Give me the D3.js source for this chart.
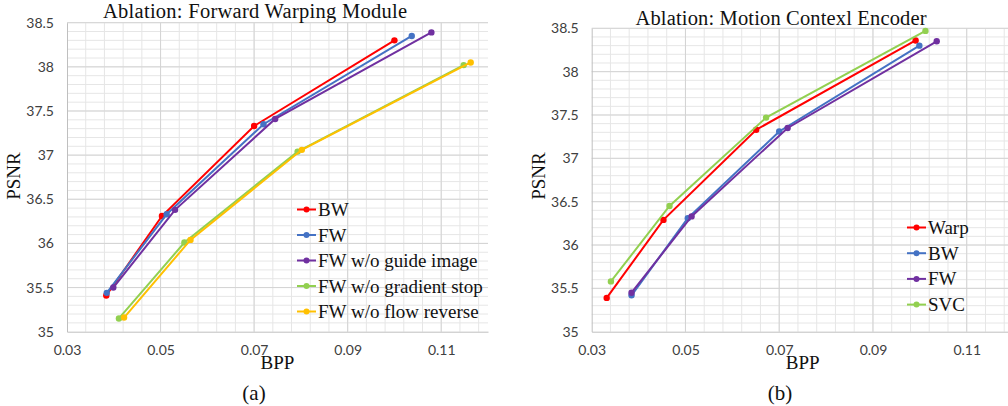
<!DOCTYPE html>
<html>
<head>
<meta charset="utf-8">
<script src="https://cdn.jsdelivr.net/npm/d3@7"></script>
<style>
  body { margin: 0; background: #fff; }
  .tick text { font-family: Lato, "Liberation Sans", sans-serif; font-size: 14px; fill: #404040; }
  .serif { font-family: "Liberation Serif", "DejaVu Serif", serif; fill: #111; }
</style>
</head>
<body>
<div id="chart"></div>
<script>
// x ticks shared by both panels
const bppTicks = [0.03, 0.05, 0.07, 0.09, 0.11];
const psnrTicks = [35, 35.5, 36, 36.5, 37, 37.5, 38, 38.5];

// (a) Ablation: Forward Warping Module
const namesA = ["BW", "FW", "FW w/o guide image", "FW w/o gradient stop", "FW w/o flow reverse"];
const colorsA = ["#ff0000", "#4472c4", "#7030a0", "#92d050", "#ffc000"];
const bwA = [[0.0384, 35.41], [0.0503, 36.31], [0.0700, 37.33], [0.1000, 38.30]];
const fwA = [[0.0385, 35.44], [0.0513, 36.33], [0.0720, 37.35], [0.1037, 38.35]];
const noGuideA = [[0.0399, 35.50], [0.0531, 36.38], [0.0745, 37.41], [0.1079, 38.39]];
const noGradA = [[0.0411, 35.15], [0.0551, 36.01], [0.0793, 37.04], [0.1148, 38.02]];
const noFlowA = [[0.0422, 35.16], [0.0564, 36.04], [0.0802, 37.06], [0.1163, 38.05]];

// (b) Ablation: Motion Contexl Encoder
const namesB = ["Warp", "BW", "FW", "SVC"];
const colorsB = ["#ff0000", "#4472c4", "#7030a0", "#92d050"];
const warpB = [[0.0332, 35.39], [0.0453, 36.29], [0.0651, 37.33], [0.0991, 38.36]];
const bwB = [[0.0385, 35.42], [0.0505, 36.31], [0.0700, 37.31], [0.0999, 38.30]];
const fwB = [[0.0385, 35.45], [0.0513, 36.33], [0.0718, 37.35], [0.1036, 38.35]];
const svcB = [[0.0341, 35.58], [0.0466, 36.45], [0.0672, 37.47], [0.1012, 38.47]];

const W = 1008, H = 406;
const svg = d3.select("#chart").append("svg")
      .attr("width", W)
      .attr("height", H);

function drawPanel(p) {
      const x = d3.scaleLinear().domain([0.03, 0.12]).range([p.left, p.left + p.width]);
      const y = d3.scaleLinear().domain([35, 38.5]).range([p.bottom, p.top]);
      const g = svg.append("g");

      // minor grid
      const minorX = d3.range(0.034, 0.1201, 0.004);
      const minorY = d3.range(35.1, 38.51, 0.1);
      g.selectAll(".mx").data(minorX).enter().append("line")
            .attr("x1", d => x(d)).attr("x2", d => x(d))
            .attr("y1", p.top).attr("y2", p.bottom)
            .style("stroke", "#e6e6e6").style("stroke-width", 1);
      g.selectAll(".my").data(minorY).enter().append("line")
            .attr("x1", p.left).attr("x2", p.left + p.width)
            .attr("y1", d => y(d)).attr("y2", d => y(d))
            .style("stroke", "#e6e6e6").style("stroke-width", 1);
      // major grid
      g.selectAll(".gx").data(bppTicks.slice(1)).enter().append("line")
            .attr("x1", d => x(d)).attr("x2", d => x(d))
            .attr("y1", p.top).attr("y2", p.bottom)
            .style("stroke", "#d4d4d4").style("stroke-width", 1);
      g.selectAll(".gy").data(psnrTicks.slice(1)).enter().append("line")
            .attr("x1", p.left).attr("x2", p.left + p.width)
            .attr("y1", d => y(d)).attr("y2", d => y(d))
            .style("stroke", "#d4d4d4").style("stroke-width", 1);

      // axes
      const xAxis = g.append("g")
            .attr("transform", `translate(0,${p.bottom})`)
            .call(d3.axisBottom(x).tickValues(bppTicks).tickSize(0).tickPadding(13)
                  .tickFormat(d => d3.format(".2f")(d)));
      const yAxis = g.append("g")
            .attr("transform", `translate(${p.left},0)`)
            .call(d3.axisLeft(y).tickValues(psnrTicks).tickSize(0).tickPadding(13)
                  .tickFormat(d => String(d)));
      [xAxis, yAxis].forEach(a => a.select(".domain").style("stroke", "#bfbfbf"));

      // series
      p.series.forEach((s, i) => {
            g.append("path")
                  .datum(s)
                  .attr("d", d3.line().x(d => x(d[0])).y(d => y(d[1])))
                  .style("fill", "none")
                  .style("stroke", p.colors[i])
                  .style("stroke-width", 2);
            g.selectAll(null).data(s).enter().append("circle")
                  .attr("cx", d => x(d[0])).attr("cy", d => y(d[1]))
                  .attr("r", 3.2)
                  .style("fill", p.colors[i]);
      });

      // legend
      p.names.forEach((n, i) => {
            const ly = p.legY + i * p.legStep;
            g.append("line")
                  .attr("x1", p.legX).attr("x2", p.legX + 19)
                  .attr("y1", ly).attr("y2", ly)
                  .style("stroke", p.colors[i]).style("stroke-width", 2);
            g.append("circle")
                  .attr("cx", p.legX + 9.5).attr("cy", ly).attr("r", 3)
                  .style("fill", p.colors[i]);
            g.append("text")
                  .attr("class", "serif")
                  .attr("x", p.legX + 21).attr("y", ly + 6.5)
                  .style("font-size", "19px")
                  .text(n);
      });

      // titles & labels
      g.append("text").attr("class", "serif")
            .attr("x", p.titleX).attr("y", p.titleY)
            .attr("text-anchor", "middle")
            .attr("textLength", p.titleLen)
            .style("font-size", "20.5px")
            .text(p.title);
      g.append("text").attr("class", "serif")
            .attr("x", x(0.075)).attr("y", 369)
            .attr("text-anchor", "middle")
            .style("font-size", "19px")
            .text("BPP");
      g.append("text").attr("class", "serif")
            .attr("transform", `translate(${p.left - 47},${p.psnrY}) rotate(-90)`)
            .attr("text-anchor", "middle")
            .style("font-size", "19px")
            .text("PSNR");
      g.append("text").attr("class", "serif")
            .attr("x", p.capX).attr("y", 400)
            .attr("text-anchor", "middle")
            .style("font-size", "21px")
            .text(p.caption);
}

drawPanel({
      left: 67, width: 421, top: 22.7, bottom: 331.7,
      series: [bwA, fwA, noGuideA, noGradA, noFlowA],
      names: namesA, colors: colorsA,
      legX: 297, legY: 209.5, legStep: 25.5,
      title: "Ablation: Forward Warping Module", titleX: 255, titleY: 18, titleLen: 304,
      psnrY: 176, capX: 254, caption: "(a)"
});

drawPanel({
      left: 591.7, width: 421.9, top: 28.3, bottom: 331.7,
      series: [warpB, bwB, fwB, svcB],
      names: namesB, colors: colorsB,
      legX: 907, legY: 227.5, legStep: 25.7,
      title: "Ablation: Motion Contexl Encoder", titleX: 781, titleY: 25, titleLen: 291,
      psnrY: 176, capX: 780, caption: "(b)"
});
</script>
</body>
</html>
